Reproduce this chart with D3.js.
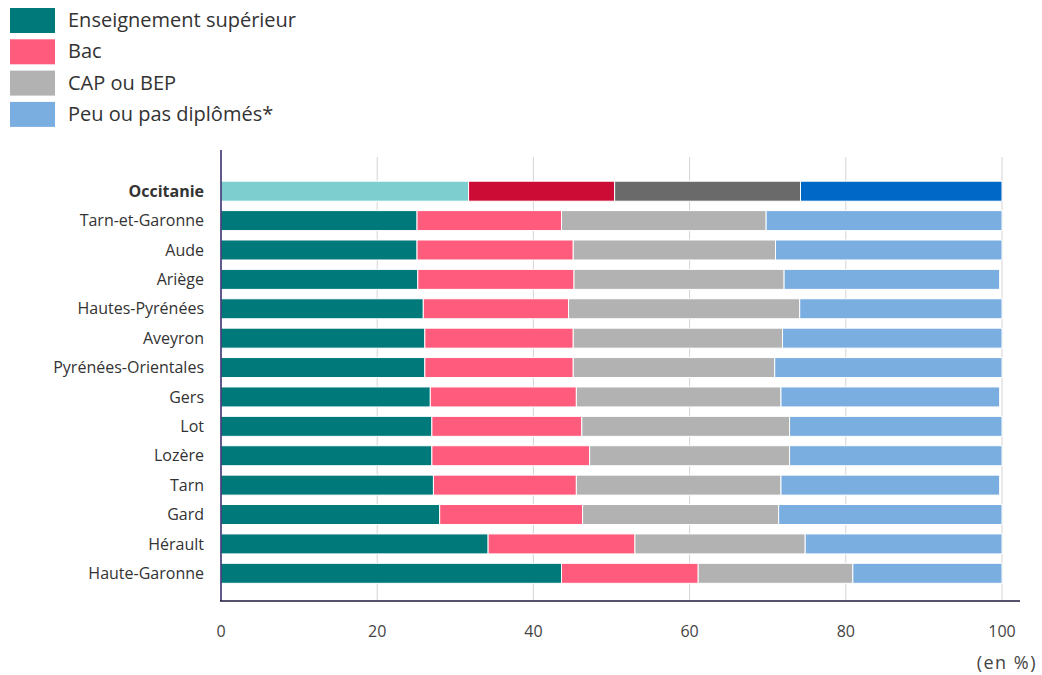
<!DOCTYPE html>
<html>
<head>
<meta charset="utf-8">
<script src="https://cdn.jsdelivr.net/npm/d3@7"></script>
<style>
  body { margin: 0; background: #fff; font-family: "Open Sans", sans-serif; }
</style>
</head>
<body>
<svg width="1042" height="675"></svg>
<script>
// territoires, de haut en bas
const territoires = ['Occitanie', 'Tarn-et-Garonne', 'Aude', 'Ariège', 'Hautes-Pyrénées', 'Aveyron',
  'Pyrénées-Orientales', 'Gers', 'Lot', 'Lozère', 'Tarn', 'Gard', 'Hérault', 'Haute-Garonne'];

const series = ['Enseignement supérieur', 'Bac', 'CAP ou BEP', 'Peu ou pas diplômés*'];

// parts en %
const superieur = [31.7, 25.1, 25.1, 25.2, 25.9, 26.1, 26.1, 26.8, 27.0, 27.0, 27.2, 28.0, 34.2, 43.6];
const bac       = [18.7, 18.5, 20.0, 20.0, 18.6, 19.0, 19.0, 18.7, 19.2, 20.2, 18.3, 18.3, 18.8, 17.5];
const capBep    = [23.8, 26.2, 25.9, 26.9, 29.6, 26.8, 25.8, 26.2, 26.6, 25.6, 26.2, 25.1, 21.8, 19.8];
const peuPas    = [25.8, 30.2, 29.0, 27.6, 25.9, 28.1, 29.1, 28.0, 27.2, 27.2, 28.0, 28.6, 25.2, 19.1];

const xTicks = [0, 20, 40, 60, 80, 100];

const colors = ['#00797b', '#ff5b7d', '#b2b2b2', '#7aaee1'];
const colorsRegion = ['#7dcfcf', '#cc0c35', '#6a6a6a', '#0069c8'];

const svg = d3.select('svg');

const rows = territoires.map((t, i) => {
  const vals = [superieur[i], bac[i], capBep[i], peuPas[i]];
  let acc = 0;
  return {
    name: t,
    segs: vals.map((v, k) => { const s = {k: k, x0: acc, x1: acc + v}; acc += v; return s; })
  };
});

const x = d3.scaleLinear().domain([0, 100]).range([221, 1002]);
const y = d3.scaleBand().domain(territoires).range([176.5, 588]).paddingInner(0.32).paddingOuter(0.16);

//Legend
const leg = svg.append('g');
series.forEach((s, i) => {
  const gy = 8 + i * 31.3;
  leg.append('rect').attr('x', 10).attr('y', gy).attr('width', 45).attr('height', 25).attr('fill', colors[i]);
  leg.append('text').attr('x', 68).attr('y', gy + 19).text(s)
    .style('font-size', '20px').style('fill', '#333');
});

//Gridlines
svg.append('g').selectAll('line')
  .data(xTicks.slice(1))
  .join('line')
  .attr('x1', d => x(d)).attr('x2', d => x(d))
  .attr('y1', 157).attr('y2', 601)
  .attr('stroke', '#d4d4d4').attr('stroke-width', 1);

//Bars
svg.append('g').selectAll('g')
  .data(rows)
  .join('g')
  .selectAll('rect')
  .data(d => d.segs.map(s => Object.assign({name: d.name}, s)))
  .join('rect')
  .attr('x', d => x(d.x0))
  .attr('y', d => y(d.name))
  .attr('width', d => x(d.x1) - x(d.x0))
  .attr('height', y.bandwidth())
  .attr('fill', d => d.name === 'Occitanie' ? colorsRegion[d.k] : colors[d.k])
  .attr('stroke', '#fff').attr('stroke-width', 1);

//Category labels
svg.append('g').selectAll('text')
  .data(territoires)
  .join('text')
  .attr('x', 204)
  .attr('y', d => y(d) + y.bandwidth() / 2)
  .attr('dy', '0.35em')
  .attr('text-anchor', 'end')
  .style('font-size', '16px')
  .style('font-weight', d => d === 'Occitanie' ? 'bold' : 'normal')
  .style('fill', '#333')
  .text(d => d);

//Axes
svg.append('line').attr('x1', 221).attr('x2', 221).attr('y1', 150).attr('y2', 601)
  .attr('stroke', '#2b2366').attr('stroke-width', 1.5);
svg.append('line').attr('x1', 220).attr('x2', 1020).attr('y1', 601).attr('y2', 601)
  .attr('stroke', '#1d1a3d').attr('stroke-width', 1.5);

svg.append('g').selectAll('text')
  .data(xTicks)
  .join('text')
  .attr('x', d => x(d))
  .attr('y', 637)
  .attr('text-anchor', 'middle')
  .style('font-size', '16px')
  .style('fill', '#444')
  .text(d => d);

svg.append('text').attr('x', 1037).attr('y', 669).attr('text-anchor', 'end')
  .style('font-size', '18px').style('letter-spacing', '1.5px')
  .style('fill', '#444').text('(en %)');
</script>
</body>
</html>
